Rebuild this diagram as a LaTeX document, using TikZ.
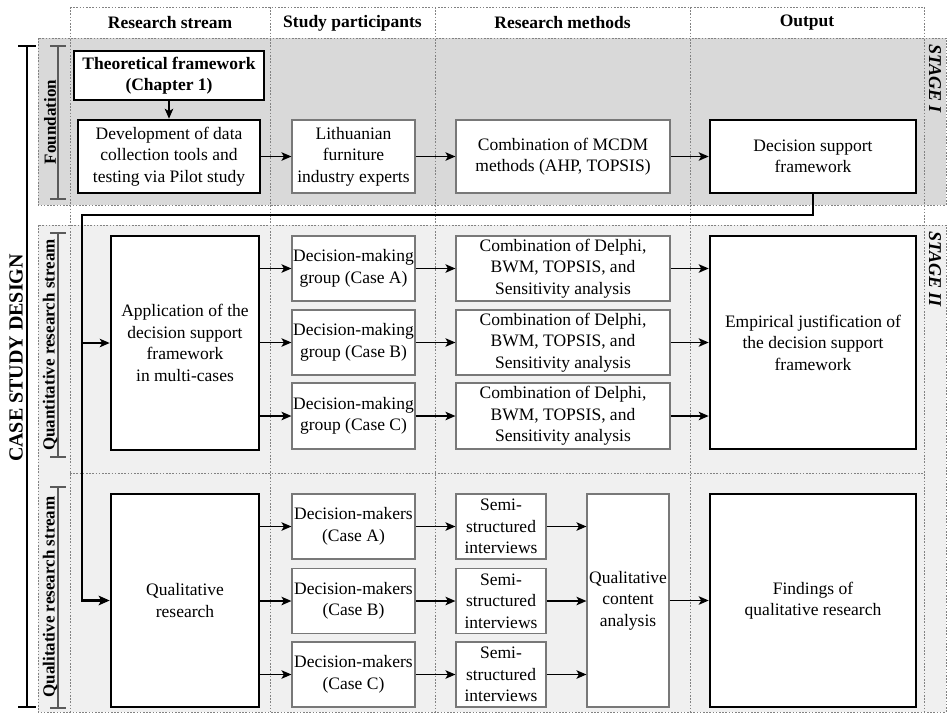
\documentclass[tikz,border=0pt]{standalone}
\usepackage{fontspec}
\setmainfont{Liberation Serif}
\usetikzlibrary{arrows.meta}
\definecolor{stageone}{RGB}{217,217,217}
\definecolor{stagetwo}{RGB}{240,240,240}
\definecolor{boxgrey}{RGB}{120,120,120}
\definecolor{gridgrey}{RGB}{130,130,130}
\definecolor{brgrey}{RGB}{90,90,90}
\begin{document}
\begin{tikzpicture}[x=1pt,y=-1pt,
  every node/.style={font=\fontsize{17.5}{21.5}\selectfont, align=center, inner sep=0pt},
  hdr/.style={font=\fontsize{17.5}{21.5}\selectfont\bfseries},
  side/.style={font=\fontsize{17}{20}\selectfont\bfseries, rotate=90},
  stagelbl/.style={font=\fontsize{18}{21}\selectfont\bfseries\itshape, rotate=-90, anchor=west},
  thinbox/.style={draw=boxgrey, line width=1.1pt, fill=white},
  thickbox/.style={draw=black, line width=2.6pt, fill=white},
  grid/.style={draw=gridgrey, line width=0.9pt, dash pattern=on 1.6pt off 1.6pt},
  arr/.style={line width=1.7pt, -{Stealth[length=10pt,width=8.5pt,inset=2.5pt]}},
  conn/.style={line width=2.3pt},
  brk/.style={draw=brgrey, line width=1.1pt},
]
\useasboundingbox (0,0) rectangle (948,716);
\fill[white] (0,0) rectangle (948,716);

% stage bands
\path[fill=stageone] (38,38) rectangle (946,205);
\path[grid] (38,38) rectangle (946,205);
\path[fill=stagetwo] (38,225) rectangle (946,712);
\path[grid] (38,225) rectangle (946,712);

% grid lines
\path[grid] (70,7) -- (924,7);
\foreach \gx in {70,270,435,690,924} { \path[grid] (\gx,7) -- (\gx,712); }
\path[grid] (70,473) -- (924,473);

% headers
\node[hdr] (h1) at (170,23) {Research stream};
\node[hdr] (h2) at (352.5,23) {Study participants};
\node[hdr] (h3) at (562.5,23) {Research methods};
\node[hdr] (h4) at (807,23) {Output};

% side brackets and labels
\draw[line width=1.6pt] (18,46) -- (36,46) (27,46) -- (27,707) (18,707) -- (36,707);
\node[font=\fontsize{20}{24}\selectfont\bfseries, rotate=90] (csd) at (16,358) {CASE STUDY DESIGN};
\draw[brk] (50,46) -- (66,46) (58,46) -- (58,199) (50,199) -- (66,199);
\node[side] (fnd) at (50,122) {Foundation};
\draw[brk] (50,233) -- (66,233) (58,233) -- (58,457) (50,457) -- (66,457);
\node[side] (qnt) at (50,345) {Quantitative research stream};
\draw[brk] (50,487) -- (66,487) (58,487) -- (58,708) (50,708) -- (66,708);
\node[side] (qlt) at (50,597) {Qualitative research stream};

\node[stagelbl] (s1) at (935,44) {STAGE I};
\node[stagelbl] (s2) at (935,231) {STAGE II};

% stage I boxes
\node[thickbox, minimum width=190pt, minimum height=49pt, font=\fontsize{17.5}{21.5}\selectfont\bfseries] (theo) at (169,75.5) {Theoretical framework\\(Chapter 1)};
\node[thickbox, minimum width=182pt, minimum height=73pt] (dev) at (169,156.5) {Development of data\\collection tools and\\testing via Pilot study};
\node[thinbox, minimum width=123pt, minimum height=73pt] (lith) at (353.5,156.5) {Lithuanian\\furniture\\industry experts};
\node[thinbox, minimum width=214pt, minimum height=73pt] (mcdm) at (563,156.5) {Combination of MCDM\\methods (AHP, TOPSIS)};
\node[thickbox, minimum width=206pt, minimum height=73pt] (dsf) at (813,156.5) {Decision support\\framework};

\draw[arr] (theo) -- (dev);
\draw[arr] (dev) -- (lith);
\draw[arr] (lith) -- (mcdm);
\draw[arr] (mcdm) -- (dsf);

% stage II quantitative
\node[thickbox, minimum width=148pt, minimum height=214pt] (app) at (185,343) {Application of the\\decision support\\framework\\ in multi-cases};
\node[thinbox, minimum width=123pt, minimum height=65pt] (ga) at (353.5,268.5) {Decision-making\\group (Case A)};
\node[thinbox, minimum width=123pt, minimum height=65pt] (gb) at (353.5,342.5) {Decision-making\\group (Case B)};
\node[thinbox, minimum width=123pt, minimum height=66pt] (gc) at (353.5,416) {Decision-making\\group (Case C)};
\node[thinbox, minimum width=214pt, minimum height=65pt] (ca) at (563,268.5) {Combination of Delphi,\\BWM, TOPSIS, and\\Sensitivity analysis};
\node[thinbox, minimum width=214pt, minimum height=65pt] (cb) at (563,342.5) {Combination of Delphi,\\BWM, TOPSIS, and\\Sensitivity analysis};
\node[thinbox, minimum width=214pt, minimum height=66pt] (cc) at (563,416) {Combination of Delphi,\\BWM, TOPSIS, and\\Sensitivity analysis};
\node[thickbox, minimum width=206pt, minimum height=213pt] (emp) at (813,342.5) {Empirical justification of\\the decision support\\framework};

% stage II qualitative
\node[thickbox, minimum width=148pt, minimum height=213pt] (qual) at (185,600.5) {Qualitative\\research};
\node[thinbox, minimum width=123pt, minimum height=65pt] (dma) at (353.5,526.5) {Decision-makers\\(Case A)};
\node[thinbox, minimum width=123pt, minimum height=65pt] (dmb) at (353.5,601) {Decision-makers\\(Case B)};
\node[thinbox, minimum width=123pt, minimum height=65pt] (dmc) at (353.5,674.5) {Decision-makers\\(Case C)};
\node[thinbox, minimum width=90pt, minimum height=65pt] (sa) at (501,526.5) {Semi-\\structured\\interviews};
\node[thinbox, minimum width=90pt, minimum height=65pt] (sb) at (501,601) {Semi-\\structured\\interviews};
\node[thinbox, minimum width=90pt, minimum height=65pt] (sc) at (501,674.5) {Semi-\\structured\\interviews};
\node[thinbox, minimum width=82pt, minimum height=213pt] (qca) at (628,600.5) {Qualitative\\content\\analysis};
\node[thickbox, minimum width=206pt, minimum height=213pt] (find) at (813,600.5) {Findings of\\qualitative research};

% feedback connector
\coordinate (turn) at (82,215);
\draw[conn, -{Stealth[length=11pt,width=9.5pt,inset=2.5pt]}] (dsf.south) |- (turn) |- (qual.west);
\draw[arr] (turn |- app.west) -- (app.west);

% quantitative arrows
\draw[arr] (app.east |- ga.west) -- (ga.west);
\draw[arr] (app.east |- gb.west) -- (gb.west);
\draw[arr] (app.east |- gc.west) -- (gc.west);
\draw[arr] (ga) -- (ca);
\draw[arr] (gb) -- (cb);
\draw[arr] (gc) -- (cc);
\draw[arr] (ca.east) -- (emp.west |- ca.east);
\draw[arr] (cb.east) -- (emp.west |- cb.east);
\draw[arr] (cc.east) -- (emp.west |- cc.east);

% qualitative arrows
\draw[arr] (qual.east |- dma.west) -- (dma.west);
\draw[arr] (qual.east |- dmb.west) -- (dmb.west);
\draw[arr] (qual.east |- dmc.west) -- (dmc.west);
\draw[arr] (dma) -- (sa);
\draw[arr] (dmb) -- (sb);
\draw[arr] (dmc) -- (sc);
\draw[arr] (sa.east) -- (qca.west |- sa.east);
\draw[arr] (sb.east) -- (qca.west |- sb.east);
\draw[arr] (sc.east) -- (qca.west |- sc.east);
\draw[arr] (qca.east |- find.west) -- (find.west);
\end{tikzpicture}
\end{document}
